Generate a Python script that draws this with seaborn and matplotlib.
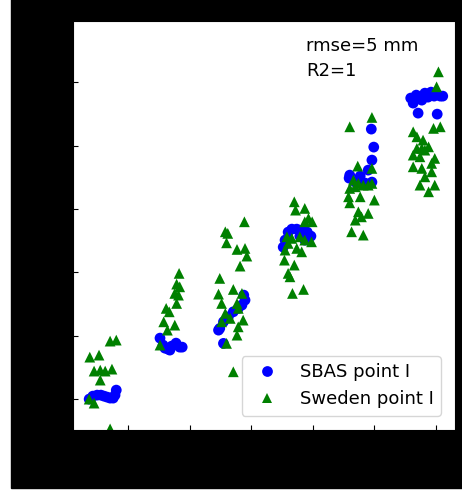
import seaborn as sns
import matplotlib.pyplot as plt
import matplotlib.patches as mpatches
import pandas as pd

# SBAS point I (x in epochs, y displacement in mm)
sbas_x = [0.37, 0.43, 0.50, 0.56, 0.61, 0.66, 0.71, 0.76, 0.81, 0.79,
          1.52, 1.57, 1.65, 1.71, 1.78, 1.84, 1.88, 1.60, 1.68,
          2.88, 2.90, 2.85, 2.79, 2.71, 2.63, 2.55, 2.49, 2.47, 2.55,
          3.52, 3.55, 3.60, 3.66, 3.74, 3.83, 3.91, 3.97, 3.79, 3.87,
          4.95, 4.99, 4.96, 4.90, 4.60, 4.69, 4.85, 4.96, 4.59, 4.77,
          5.63, 5.68, 5.71, 5.77, 5.87, 5.97, 6.07, 6.11, 6.02, 5.82, 5.92, 5.59]
sbas_y = [0.0, 0.47, 0.63, 0.63, 0.47, 0.32, 0.16, 0.16, 1.42, 0.63,
          9.62, 8.52, 7.89, 8.36, 8.83, 8.20, 8.20, 8.04, 7.73,
          16.40, 15.62, 14.83, 14.31, 13.77, 12.98, 12.19, 11.15, 10.88, 8.79,
          23.97, 25.08, 26.34, 26.81, 26.81, 26.66, 26.34, 25.71, 25.71, 25.08,
          42.59, 39.75, 37.70, 36.12, 35.33, 34.23, 34.07, 34.23, 34.86, 35.17,
          46.69, 47.95, 45.11, 47.16, 47.63, 47.79, 47.79, 47.79, 44.95, 48.26, 48.42, 47.48]

# Sweden point I
swe_x = [0.37, 0.45, 0.38, 0.53, 0.71, 0.81, 0.45, 0.55, 0.63, 0.74, 0.55, 0.71,
         1.83, 1.79, 1.84, 1.76, 1.82, 1.79, 1.62, 1.67, 1.58, 1.76, 1.64, 1.52,
         2.89, 2.58, 2.62, 2.60, 2.77, 2.90, 2.93, 2.82, 2.49, 2.47, 2.71, 2.85,
         2.52, 2.77, 2.79, 2.58, 2.66, 2.87, 2.52, 2.79, 2.77, 2.60, 2.71,
         3.70, 3.72, 3.87, 3.93, 3.99, 3.87, 3.58, 3.66, 3.60, 3.79, 3.87, 3.98,
         3.55, 3.74, 3.82, 3.54, 3.70, 3.60, 3.63, 3.67, 3.85,
         4.60, 4.96, 4.73, 4.96, 4.66, 4.74, 4.82, 4.90, 4.96, 4.60, 4.69, 4.58,
         4.77, 5.00, 4.60, 4.74, 4.90, 4.79, 4.69, 4.63, 4.82,
         6.04, 6.01, 5.96, 6.07, 5.63, 5.69, 5.79, 5.88, 5.69, 5.77, 5.82, 5.63,
         5.74, 5.98, 5.93, 5.63, 5.77, 5.93, 5.82, 5.98, 5.74, 5.88]
swe_y = [0.0, -0.63, 6.62, 6.94, 9.15, 9.31, 4.42, 4.57, 4.42, 4.73, 3.00, -4.7,
         19.83, 18.14, 17.71, 16.67, 16.40, 15.09, 14.31, 13.77, 12.19, 11.67, 10.88, 8.52,
         27.97, 26.39, 26.14, 24.65, 23.61, 23.77, 22.56, 20.98, 19.04, 16.56, 17.30, 16.67,
         15.09, 15.09, 14.31, 13.52, 12.73, 12.46, 12.19, 11.40, 10.09, 8.79, 4.31,
         31.12, 29.81, 30.08, 28.50, 27.97, 27.97, 25.60, 25.35, 24.56, 25.60, 25.08, 24.81,
         23.50, 23.77, 23.23, 21.92, 21.14, 19.83, 19.29, 16.67, 17.30,
         42.95, 44.43, 36.75, 36.39, 34.54, 34.02, 33.75, 33.75, 34.02, 33.23, 33.49, 31.91,
         31.91, 31.39, 30.96, 29.54, 29.29, 28.75, 28.23, 26.39, 25.87,
         51.62, 49.26, 42.70, 42.95, 42.16, 41.37, 40.85, 39.79, 39.54, 39.54, 39.27, 38.49,
         38.22, 37.97, 37.18, 36.64, 36.39, 35.85, 35.06, 33.75, 33.75, 32.70]

x_ticks = [1, 2, 3, 4, 5, 6]
y_ticks = [0, 10, 20, 30, 40, 50]

df = pd.concat([
    pd.DataFrame({'x': sbas_x, 'y': sbas_y, 'series': 'SBAS point I'}),
    pd.DataFrame({'x': swe_x, 'y': swe_y, 'series': 'Sweden point I'}),
])

fig = plt.figure(figsize=(4.62, 4.91), dpi=100)
# black backdrop (transparent background in the original)
fig.patches.append(mpatches.Rectangle((11 / 462, 3 / 491), 1, 1, transform=fig.transFigure,
                                      color='black', zorder=-10))
ax = fig.add_axes([0.157, 0.124, 0.828, 0.834])

sns.scatterplot(data=df, x='x', y='y', hue='series', style='series',
                palette={'SBAS point I': 'blue', 'Sweden point I': 'green'},
                markers={'SBAS point I': 'o', 'Sweden point I': '^'},
                s=60, linewidth=0, ax=ax)

ax.set_xlim(0.1, 6.31)
ax.set_ylim(-4.89, 59.7)
ax.set_xticks(x_ticks)
ax.set_yticks(y_ticks)
ax.tick_params(direction='in')
ax.set_xlabel('')
ax.set_ylabel('')

ax.text(0.61, 0.96, 'rmse=5 mm\nR2=1', transform=ax.transAxes, va='top', ha='left',
        fontsize=13, linespacing=1.5)
ax.legend(loc='lower right', fontsize=13, borderaxespad=0.8)

fig.savefig('out.png', dpi=100)
